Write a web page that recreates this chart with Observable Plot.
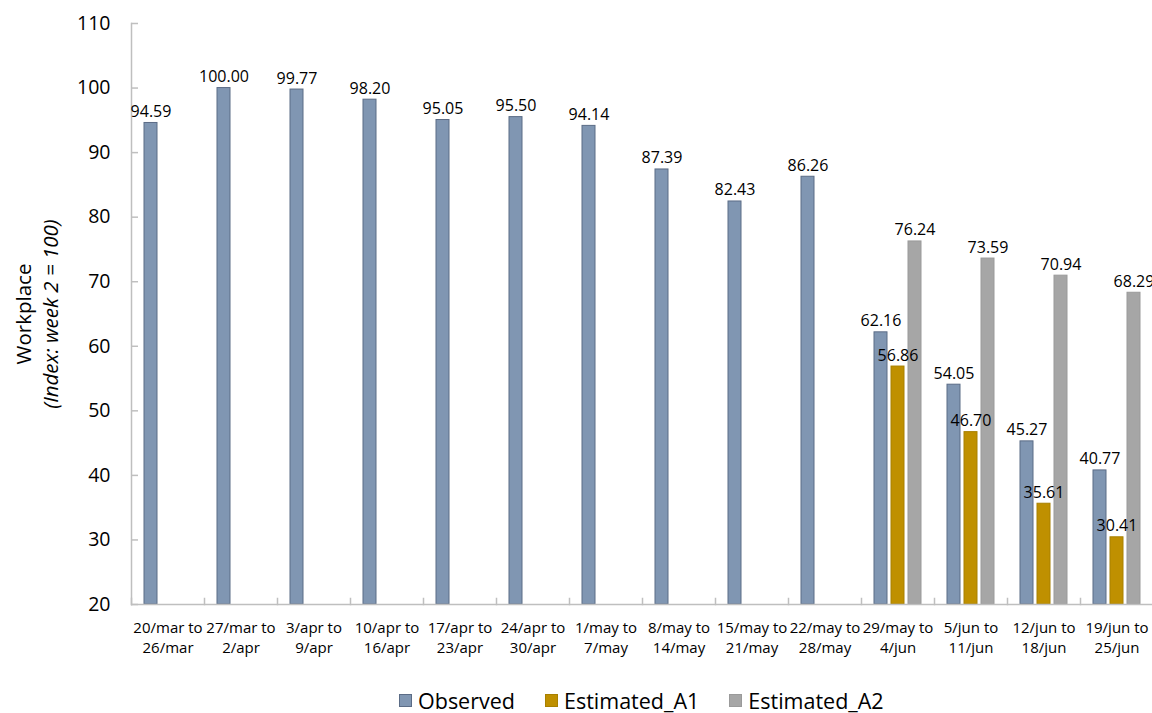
<!DOCTYPE html>
<html><head><meta charset="utf-8">
<script src="https://cdn.jsdelivr.net/npm/d3@7"></script>
<script src="https://cdn.jsdelivr.net/npm/@observablehq/plot@0.6"></script>
<style>
body{margin:0;background:#fff;font-family:"Open Sans",sans-serif;overflow:hidden;width:1152px;height:713px}
#legend{display:flex;justify-content:flex-start;align-items:center;height:26px;margin-top:15px;font-size:21.5px;color:#000;padding-left:399px}
#legend .item{display:flex;align-items:center;margin-right:30px}
#legend .sw{width:13px;height:13px;margin-right:6px;box-sizing:border-box;border:1px solid}
</style></head><body><div id="chart"></div><div id="legend"></div>
<script>
const weeks = ["20/mar to\n26/mar","27/mar to\n2/apr","3/apr to\n9/apr","10/apr to\n16/apr","17/apr to\n23/apr","24/apr to\n30/apr","1/may to\n7/may","8/may to\n14/may","15/may to\n21/may","22/may to\n28/may","29/may to\n4/jun","5/jun to\n11/jun","12/jun to\n18/jun","19/jun to\n25/jun"];
const series = ["Observed","Estimated_A1","Estimated_A2"];
const observed = [94.59,100.00,99.77,98.20,95.05,95.50,94.14,87.39,82.43,86.26,62.16,54.05,45.27,40.77];
const estimatedA1 = [null,null,null,null,null,null,null,null,null,null,56.86,46.70,35.61,30.41];
const estimatedA2 = [null,null,null,null,null,null,null,null,null,null,76.24,73.59,70.94,68.29];
const fills = ["#8096b2","#bf9000","#a6a6a6"];
const strokes = ["#5b6c86","#a88000","#9a9a9a"];
const yTicks = [20,30,40,50,60,70,80,90,100,110];

const valuesBySeries = [observed, estimatedA1, estimatedA2];
const rows = [];
weeks.forEach((w,i)=>{
  valuesBySeries.forEach((arr,j)=>{
    if (arr[i] != null) rows.push({week:w, series:series[j], value:arr[i]});
  });
});

const axisColor = "#bfbfbf";
const chart = Plot.plot({
  width:1152, height:672,
  marginLeft:128, marginRight:-3, marginTop:23, marginBottom:68,
  style:{fontFamily:"Open Sans", fontSize:"15px", color:"#000", background:"#fff", overflow:"visible"},
  fx:{domain:weeks, padding:0, label:null, axis:null},
  x:{domain:series, paddingInner:0.22, paddingOuter:0.73, axis:null},
  y:{domain:[20,110], label:null},
  marks:[
    Plot.frame({anchor:"left", facetAnchor:"left", stroke:axisColor, strokeWidth:1.5}),
    Plot.frame({anchor:"left", insetTop:575, stroke:axisColor, strokeWidth:1.5}),
    ...series.map((s,j)=>Plot.barY(rows.filter(d=>d.series===s), {fx:"week", x:"series", y1:20, y2:"value", fill:fills[j], stroke:strokes[j], strokeWidth:1})),
    Plot.ruleY([20], {stroke:axisColor, strokeWidth:1.5}),
    Plot.text(rows, {fx:"week", x:"series", y:"value", text:d=>d.value.toFixed(2), lineAnchor:"bottom", dy:-6, fontSize:16, fill:"#000"}),
    Plot.axisY({ticks:yTicks, tickSize:0, tickPadding:21, fontSize:19.5, tickFormat:d=>String(d), label:null, fill:"#000"}),
    Plot.axisY({ticks:yTicks, tickSize:7, dx:7, fill:"none", stroke:axisColor, strokeWidth:1.5, label:null}),
    Plot.axisFx({anchor:"bottom", tickSize:0, tickPadding:14, fontSize:15, lineHeight:1.35, label:null, fill:"#000"}),
    Plot.text(["Workplace"], {frameAnchor:"left", dx:-107, rotate:-90, textAnchor:"middle", fontSize:20.5, facetAnchor:"left", fill:"#000"}),
    Plot.text(["(Index: week 2 = 100)"], {frameAnchor:"left", dx:-80, rotate:-90, textAnchor:"middle", fontSize:20.5, fontStyle:"italic", facetAnchor:"left", fill:"#000"})
  ]
});
document.getElementById("chart").appendChild(chart);

const legend = document.getElementById("legend");
series.forEach((s,j)=>{
  const it = document.createElement("div"); it.className="item";
  const sw = document.createElement("span"); sw.className="sw"; sw.style.background=fills[j]; sw.style.borderColor=strokes[j];
  const tx = document.createElement("span"); tx.textContent=s;
  it.appendChild(sw); it.appendChild(tx); legend.appendChild(it);
});
</script></body></html>
